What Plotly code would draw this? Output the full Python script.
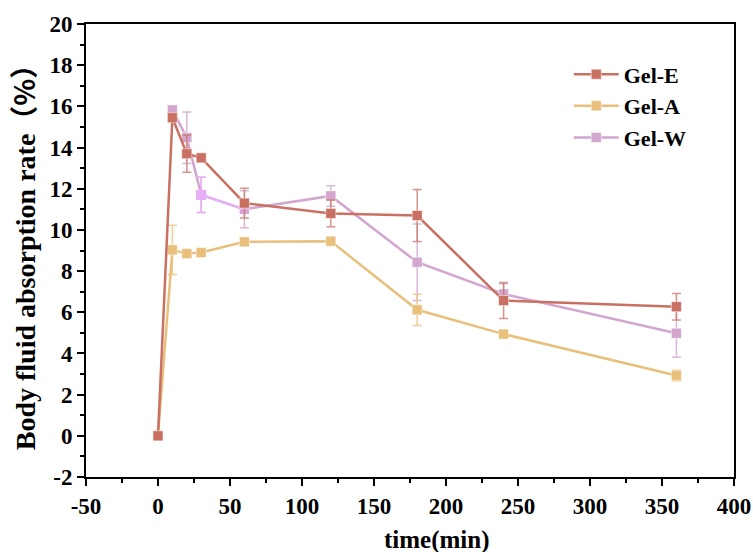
import plotly.graph_objects as go

# ---- data ----
E_t = [0, 10, 20, 30, 60, 120, 180, 240, 360]
E_y = [0.0, 15.45, 13.7, 13.5, 11.3, 10.8, 10.7, 6.57, 6.27]
E_err = [0.0, 0.0, 0.9, 0.0, 0.72, 0.65, 1.26, 0.87, 0.64]

A_t = [0, 10, 20, 30, 60, 120, 180, 240, 360]
A_y = [0.0, 9.03, 8.85, 8.9, 9.42, 9.45, 6.12, 4.94, 2.93]
A_err = [0.0, 1.2, 0.15, 0.1, 0.15, 0.1, 0.76, 0.2, 0.25]

W_t = [10, 20, 30, 60, 120, 180, 240, 360]
W_y = [15.83, 14.48, 11.7, 11.0, 11.65, 8.43, 6.89, 4.98]
W_err = [0.2, 1.25, 0.86, 0.9, 0.5, 1.86, 0.5, 1.16]

x_tickvals = [-50, 0, 50, 100, 150, 200, 250, 300, 350, 400]
x_ticktext = ["-50", "0", "50", "100", "150", "200", "250", "300", "350", "400"]
y_tickvals = [-2, 0, 2, 4, 6, 8, 10, 12, 14, 16, 18, 20]
y_ticktext = ["-2", "0", "2", "4", "6", "8", "10", "12", "14", "16", "18", "20"]

RED = "#C97062"
RED_E = "rgba(201,112,98,0.75)"
YEL = "#E8C07C"
YEL_E = "rgba(232,192,124,0.8)"
PUR = "#D2A6CE"
PUR_E = "rgba(210,166,206,0.8)"
VIO = "#E6AEF5"

FONT = "Liberation Serif"

fig = go.Figure()

def add(t, y, err, name, col, ecol, rank):
    fig.add_trace(go.Scatter(
        x=t, y=y, name=name, mode="lines+markers",
        line=dict(color=col, width=2.5),
        marker=dict(symbol="square", size=10, color=col,
                    line=dict(color="rgba(255,255,255,0.6)", width=0.8)),
        error_y=dict(type="data", array=err, visible=True, color=ecol,
                     thickness=1.5, width=4.5),
        legendrank=rank,
    ))

add(W_t, W_y, W_err, "Gel-W", PUR, PUR_E, 3)
# lighter violet highlight of the 30-min point and the segment to 60 min
fig.add_trace(go.Scatter(
    x=W_t[2:4], y=W_y[2:4], mode="lines+markers", showlegend=False,
    line=dict(color=VIO, width=2.5),
    marker=dict(symbol="square", size=10, color=[VIO, "rgba(0,0,0,0)"],
                line=dict(width=0)),
    error_y=dict(type="data", array=[W_err[2], 0], visible=True,
                 color=VIO, thickness=1.5, width=4.5),
))
add(A_t, A_y, A_err, "Gel-A", YEL, YEL_E, 2)
add(E_t, E_y, E_err, "Gel-E", RED, RED_E, 1)

axis_common = dict(
    showline=True, linecolor="black", linewidth=2, mirror=True,
    ticks="outside", ticklen=7, tickwidth=2, tickcolor="black",
    showgrid=False, zeroline=False, automargin=False,
    tickfont=dict(family=FONT, size=23, color="black"),
)

fig.update_xaxes(
    range=[-50, 400], tickvals=x_tickvals,
    ticktext=["<b>%s</b>" % s for s in x_ticktext],
    minor=dict(ticks="outside", ticklen=4, tickwidth=2, tickcolor="black", dtick=25, tick0=0),
    **axis_common,
)
fig.update_yaxes(
    range=[-2, 20], tickvals=y_tickvals,
    ticktext=["<b>%s</b>" % s for s in y_ticktext],
    minor=dict(ticks="outside", ticklen=4, tickwidth=2, tickcolor="black", dtick=1, tick0=0),
    title=dict(
        text="<b>Body fluid absorption rate<span style=\"font-family:'Noto Sans CJK SC'\">（%）</span></b>",
        font=dict(family=FONT, size=28, color="black"), standoff=6),
    **axis_common,
)

fig.add_annotation(
    text="<b>time(min)</b>", xref="paper", yref="paper",
    x=0.541, y=-0.138, xanchor="center", yanchor="middle", showarrow=False,
    font=dict(family=FONT, size=25, color="black"),
)

fig.update_layout(
    width=753, height=552,
    margin=dict(l=86, r=19, t=24, b=75),
    plot_bgcolor="white", paper_bgcolor="white",
    legend=dict(x=0.745, y=0.935, xanchor="left", yanchor="top",
                font=dict(family=FONT, size=22, color="black", weight="bold"),
                bgcolor="rgba(0,0,0,0)", tracegroupgap=0, itemwidth=45),
)

fig.write_html("out.html")
